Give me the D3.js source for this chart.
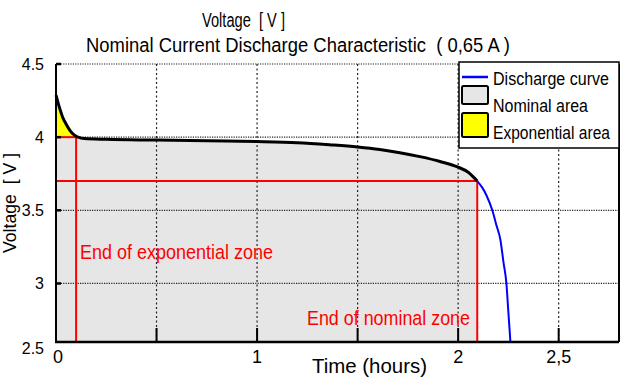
<!DOCTYPE html>
<html>
<head>
<meta charset="utf-8">
<script src="https://cdn.jsdelivr.net/npm/d3@7"></script>
<style>
  html, body { margin: 0; padding: 0; background: #fff; }
  svg { display: block; font-family: "Liberation Sans", Arial, sans-serif; }
  .pre { white-space: pre; }
</style>
</head>
<body>
<svg id="chart" width="623" height="383"></svg>
<script>
// ---- data ----
const nominalTime = [0, 0.02, 0.035, 0.05, 0.07, 0.09, 0.11, 0.14, 0.25, 0.5, 0.75, 1.0, 1.2, 1.36, 1.5, 1.61, 1.71, 1.81, 1.91, 2.0, 2.05, 2.095];
const nominalVolt = [4.288, 4.19, 4.13, 4.09, 4.045, 4.015, 4.0, 3.99, 3.985, 3.98, 3.975, 3.97, 3.962, 3.948, 3.933, 3.916, 3.894, 3.867, 3.834, 3.795, 3.76, 3.70];
const tailTime = [2.095, 2.12, 2.14, 2.17, 2.19, 2.21, 2.225, 2.24, 2.25, 2.26];
const tailVolt = [3.70, 3.655, 3.605, 3.50, 3.40, 3.30, 3.15, 3.00, 2.80, 2.60];
const expEnd = { t: 0.1, v: 4.0 };
const nomEnd = { t: 2.095, v: 3.70 };
const xTickValues = [0, 1, 2, 2.5];
const xTickLabels = ["0", "1", "2", "2,5"];
const xGridValues = [0.5, 1, 1.5, 2, 2.5];
const yTickValues = [2.5, 3, 3.5, 4, 4.5];
const yTickLabels = ["2.5", "3", "3.5", "4", "4.5"];
const legendLabels = ["Discharge curve", "Nominal area", "Exponential area"];
const titleText = "Nominal Current Discharge Characteristic  ( 0,65 A )";
const topText = "Voltage  [ V ]";
const xLabel = "Time (hours)";
const yLabel = "Voltage  [ V ]";
const annExp = "End of exponential zone";
const annNom = "End of nominal zone";

// ---- layout ----
const svg = d3.select("#chart");
const x = d3.scaleLinear().domain([0, 2.8]).range([56, 619]);
const y = d3.scaleLinear().domain([2.6, 4.5]).range([342, 64]);
const y0 = y.domain()[0];

const nominal = nominalTime.map((t, i) => ({ t, v: nominalVolt[i] }));
const tail = tailTime.map((t, i) => ({ t, v: tailVolt[i] }));
const expPart = nominal.filter(d => d.t <= 0.11);

const curve = d3.curveMonotoneX;

// grey nominal area
svg.append("path")
  .datum(nominal)
  .attr("fill", "#e6e6e6")
  .attr("d", d3.area().x(d => x(d.t)).y0(y(y0)).y1(d => y(d.v)).curve(curve));

// yellow exponential area
svg.append("path")
  .datum(expPart)
  .attr("fill", "#ffff00")
  .attr("d", d3.area().x(d => x(d.t)).y0(y(expEnd.v)).y1(d => y(d.v)).curve(curve));

// grid
const grid = svg.append("g").attr("stroke", "#222").attr("stroke-width", 1.2);
grid.selectAll("line.h").data(yTickValues.filter(v => v > y0)).join("line")
  .attr("x1", x(0)).attr("x2", x(2.8))
  .attr("y1", d => y(d)).attr("y2", d => y(d))
  .attr("stroke-dasharray", "1.2,1.2");
grid.selectAll("line.v").data(xGridValues).join("line")
  .attr("x1", d => x(d)).attr("x2", d => x(d))
  .attr("y1", y(4.5)).attr("y2", y(y0))
  .attr("stroke-dasharray", "2,2.5");

// red markers
const red = svg.append("g").attr("stroke", "#ff0000").attr("stroke-width", 2).attr("fill", "none");
red.append("line").attr("x1", x(0)).attr("x2", x(expEnd.t)).attr("y1", y(expEnd.v)).attr("y2", y(expEnd.v));
red.append("line").attr("x1", x(expEnd.t)).attr("x2", x(expEnd.t)).attr("y1", y(expEnd.v)).attr("y2", y(y0));
red.append("line").attr("x1", x(0)).attr("x2", x(nomEnd.t)).attr("y1", y(nomEnd.v)).attr("y2", y(nomEnd.v));
red.append("line").attr("x1", x(nomEnd.t)).attr("x2", x(nomEnd.t)).attr("y1", y(nomEnd.v)).attr("y2", y(y0));

// curves
const line = d3.line().x(d => x(d.t)).y(d => y(d.v)).curve(curve);
svg.append("path").datum(tail).attr("fill", "none").attr("stroke", "#0000ff").attr("stroke-width", 2).attr("d", line);
svg.append("path").datum(nominal).attr("fill", "none").attr("stroke", "#000").attr("stroke-width", 3).attr("d", line);

// annotations
svg.append("text").attr("x", 80).attr("y", 259).attr("fill", "#ff0000")
  .attr("font-size", 20.5).attr("textLength", 193).attr("lengthAdjust", "spacingAndGlyphs").text(annExp);
svg.append("text").attr("x", 307).attr("y", 325).attr("fill", "#ff0000")
  .attr("font-size", 20.5).attr("textLength", 163).attr("lengthAdjust", "spacingAndGlyphs").text(annNom);

// axes lines
const ax = svg.append("g").attr("stroke", "#000");
ax.append("line").attr("x1", x(0)).attr("x2", x(0)).attr("y1", y(4.5)).attr("y2", y(y0) + 1).attr("stroke-width", 2);
ax.append("line").attr("x1", x(0) - 1).attr("x2", x(2.8)).attr("y1", y(y0)).attr("y2", y(y0)).attr("stroke-width", 2.5);
ax.append("line").attr("x1", x(2.8)).attr("x2", x(2.8)).attr("y1", y(4.5)).attr("y2", y(y0)).attr("stroke-width", 2);
ax.selectAll("line.yt").data(yTickValues.filter(v => v > y0)).join("line")
  .attr("x1", x(0)).attr("x2", x(0) + 5).attr("y1", d => y(d)).attr("y2", d => y(d)).attr("stroke-width", 2.5);
ax.selectAll("line.xt").data(xGridValues).join("line")
  .attr("x1", d => x(d)).attr("x2", d => x(d)).attr("y1", y(y0)).attr("y2", y(y0) - 14).attr("stroke-width", 2);

// tick labels
svg.append("g").selectAll("text").data(yTickValues).join("text")
  .attr("x", 44)
  .attr("y", d => d > y0 ? y(d) : y(y0) + 6)
  .attr("dy", "0.35em")
  .attr("text-anchor", "end")
  .attr("font-size", 16)
  .text((d, i) => yTickLabels[i]);
svg.append("g").selectAll("text").data(xTickValues).join("text")
  .attr("x", d => x(d) + (d === 0 ? 2 : 0))
  .attr("y", 363)
  .attr("text-anchor", "middle")
  .attr("font-size", 18)
  .text((d, i) => xTickLabels[i]);

// titles
svg.append("text").attr("class", "pre").attr("x", 202).attr("y", 27)
  .attr("font-size", 20).attr("textLength", 83).attr("lengthAdjust", "spacingAndGlyphs").text(topText);
svg.append("text").attr("class", "pre").attr("x", 86).attr("y", 52)
  .attr("font-size", 20).attr("textLength", 424).attr("lengthAdjust", "spacingAndGlyphs").text(titleText);
svg.append("text").attr("x", 312).attr("y", 373)
  .attr("font-size", 20).attr("textLength", 115).attr("lengthAdjust", "spacingAndGlyphs").text(xLabel);
svg.append("text").attr("class", "pre").attr("transform", "translate(16,203) rotate(-90)").attr("text-anchor", "middle")
  .attr("font-size", 19).attr("textLength", 100).attr("lengthAdjust", "spacingAndGlyphs").text(yLabel);

// legend
const lg = svg.append("g");
lg.append("rect").attr("x", 459).attr("y", 62).attr("width", 160).attr("height", 86)
  .attr("fill", "#fff").attr("stroke", "#000").attr("stroke-width", 1.5);
lg.append("line").attr("x1", 462).attr("x2", 488).attr("y1", 77).attr("y2", 77)
  .attr("stroke", "#0000ff").attr("stroke-width", 2.5);
lg.append("rect").attr("x", 462).attr("y", 86).attr("width", 26).attr("height", 18).attr("rx", 1.5)
  .attr("fill", "#e6e6e6").attr("stroke", "#000").attr("stroke-width", 2);
lg.append("rect").attr("x", 462).attr("y", 113).attr("width", 26).attr("height", 24).attr("rx", 1.5)
  .attr("fill", "#ffff00").attr("stroke", "#000").attr("stroke-width", 2);
const legendY = [85, 112, 139];
const legendW = [116, 95, 117];
lg.selectAll("text").data(legendLabels).join("text")
  .attr("x", 493).attr("y", (d, i) => legendY[i])
  .attr("font-size", 17.5)
  .attr("textLength", (d, i) => legendW[i]).attr("lengthAdjust", "spacingAndGlyphs")
  .text(d => d);
</script>
</body>
</html>
